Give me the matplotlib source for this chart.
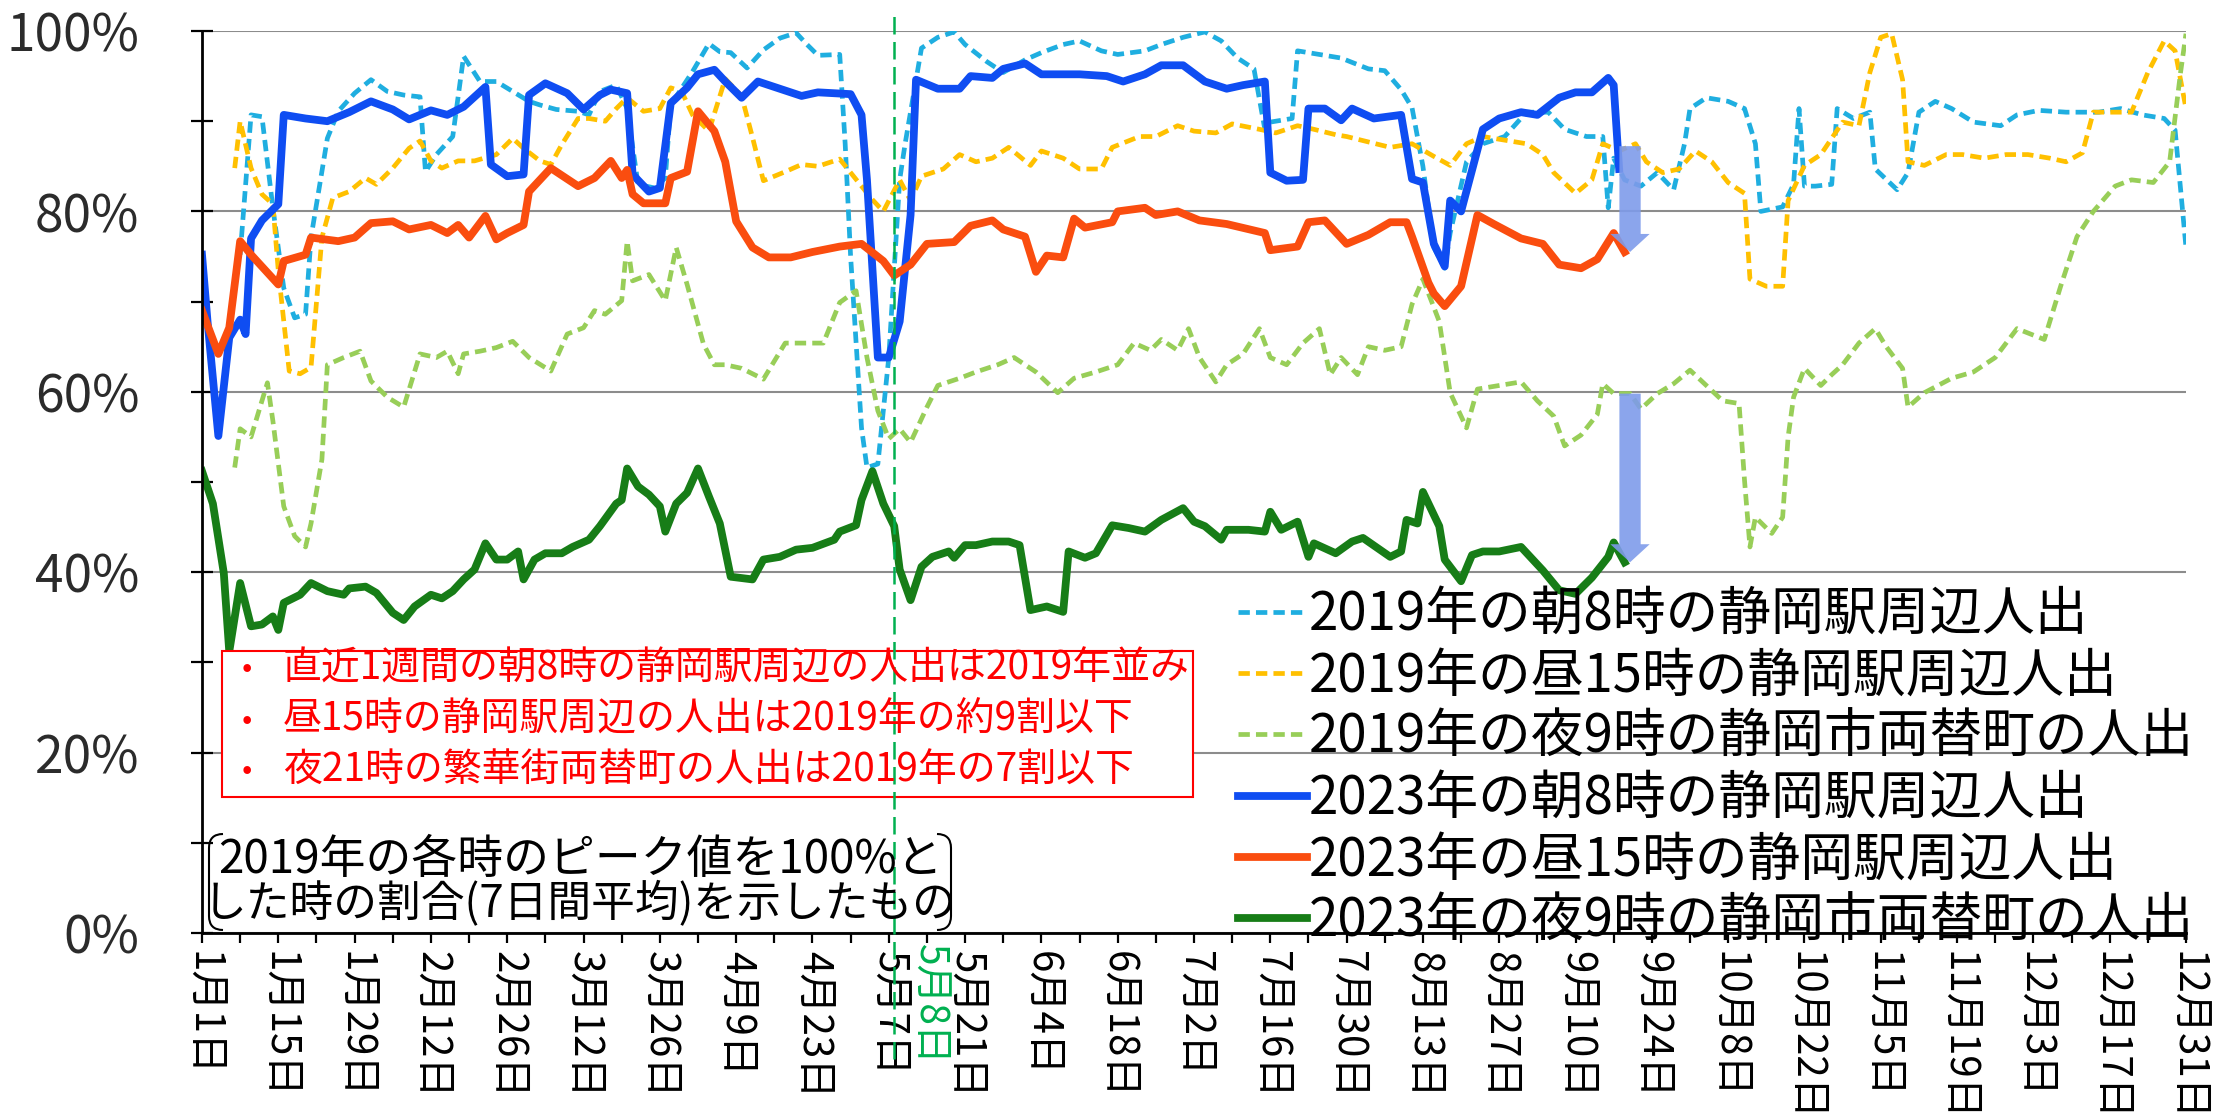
import matplotlib
matplotlib.use("Agg")
import numpy as np
import matplotlib.pyplot as plt
from matplotlib.patches import Rectangle, FancyArrow, PathPatch
from matplotlib.path import Path
from matplotlib.transforms import Affine2D
from matplotlib.ticker import MultipleLocator

plt.rcParams['font.family'] = ['Noto Sans CJK JP', 'DejaVu Sans']

# x = days counted from Jan 1 (day 0), y = % of the 2019 peak (7-day average)
am19_day = [7, 9, 11, 13, 15, 17, 19, 20, 23, 25, 28, 31, 34, 37, 40, 41, 43, 46, 48, 51,
            54, 57, 60, 62, 65, 69, 71, 73, 76, 78, 80, 83, 85, 86, 90, 93, 95, 97, 100, 103,
            106, 109, 111, 113, 117, 118, 119, 121, 122, 124, 126, 128, 129, 132, 135, 138, 140, 144, 147, 151,
            154, 158, 161, 165, 168, 173, 176, 180, 184, 187, 190, 193, 195, 196, 200, 201, 205, 209, 214, 217,
            220, 222, 224, 226, 228, 229, 232, 235, 239, 243, 247, 250, 254, 257, 258, 259, 261, 264, 267, 270,
            272, 273, 276, 280, 283, 285, 286, 290, 292, 293, 294, 296, 299, 300, 303, 306, 307, 311, 313, 315,
            318, 321, 325, 330, 333, 337, 342, 348, 352, 356, 360, 362, 364]
am19_val = [75.2, 90.7, 90.5, 80.4, 71.5, 68.2, 68.6, 77.1, 88.1, 91.1, 93.1, 94.6, 93.3, 92.9, 92.7, 84.4, 86.3, 88.3, 97.2, 94.4,
            94.4, 93.3, 92.2, 91.8, 91.3, 91.1, 90.7, 93.3, 94.0, 91.4, 83.0, 82.6, 83.7, 91.8, 95.5, 98.6, 97.7, 97.6, 95.9, 97.9,
            99.2, 99.8, 98.5, 97.3, 97.4, 87.5, 75.0, 56.0, 51.6, 52.0, 63.8, 83.5, 87.5, 98.1, 99.3, 99.9, 98.5, 96.6, 95.4, 96.8,
            97.6, 98.5, 98.9, 97.8, 97.4, 97.8, 98.5, 99.3, 99.9, 98.9, 97.0, 95.8, 89.1, 89.9, 90.3, 97.8, 97.4, 97.0, 95.8, 95.6,
            93.5, 91.5, 85.0, 76.0, 73.7, 77.6, 85.5, 87.5, 88.3, 91.0, 91.0, 89.1, 88.3, 88.3, 80.4, 85.9, 83.5, 82.8, 84.3, 82.4,
            87.5, 91.4, 92.6, 92.2, 91.4, 87.5, 80.0, 80.5, 83.0, 91.4, 82.8, 82.8, 83.0, 91.4, 90.3, 91.0, 84.7, 82.4, 84.3, 91.0,
            92.2, 91.4, 89.9, 89.5, 90.7, 91.2, 91.0, 91.0, 91.4, 90.7, 90.3, 89.0, 76.0]

pm19_day = [6, 7, 9, 11, 13, 14, 16, 18, 20, 22, 24, 27, 30, 32, 35, 38, 40, 42, 44, 47,
            50, 54, 57, 59, 62, 64, 66, 69, 71, 74, 76, 78, 81, 84, 86, 88, 90, 93, 96, 99,
            101, 103, 107, 110, 113, 117, 119, 123, 125, 128, 130, 132, 136, 139, 142, 145, 148, 152, 154, 158,
            161, 165, 167, 172, 175, 179, 182, 186, 189, 194, 197, 201, 204, 208, 210, 214, 218, 222, 226, 229,
            232, 235, 239, 243, 246, 248, 252, 255, 257, 260, 263, 265, 268, 271, 274, 277, 280, 283, 284, 287,
            290, 291, 294, 297, 301, 304, 306, 308, 310, 312, 313, 316, 320, 323, 327, 331, 335, 339, 342, 345,
            347, 350, 354, 357, 360, 362, 364]
pm19_val = [84.8, 90.0, 84.8, 81.9, 80.8, 73.4, 62.3, 62.0, 62.7, 77.1, 81.5, 82.2, 83.7, 83.0, 84.8, 87.0, 87.8, 85.6, 84.8, 85.6,
            85.6, 86.3, 88.1, 87.0, 85.6, 85.2, 87.4, 90.3, 90.3, 90.0, 91.4, 92.6, 91.1, 91.4, 93.7, 93.3, 90.7, 88.9, 94.7, 92.8,
            88.2, 83.4, 84.4, 85.2, 85.0, 85.8, 84.3, 81.3, 80.0, 83.5, 81.2, 83.9, 84.7, 86.3, 85.5, 85.9, 87.1, 85.1, 86.7, 85.9,
            84.7, 84.7, 87.1, 88.3, 88.3, 89.5, 88.9, 88.7, 89.7, 89.1, 88.7, 89.5, 89.1, 88.5, 88.3, 87.7, 87.1, 87.5, 86.1, 85.1,
            87.5, 88.3, 87.9, 87.5, 86.3, 84.3, 82.0, 83.5, 87.5, 86.7, 87.5, 85.5, 84.3, 84.7, 86.7, 85.5, 83.2, 82.0, 72.5, 71.7,
            71.7, 81.2, 85.1, 86.3, 89.9, 89.5, 95.4, 99.3, 99.7, 94.6, 85.5, 85.1, 86.3, 86.3, 85.9, 86.3, 86.3, 85.9, 85.5, 86.5,
            91.0, 91.0, 91.0, 95.4, 98.9, 97.8, 91.4]

night19_day = [6, 7, 9, 12, 13, 15, 17, 19, 20, 22, 23, 26, 29, 31, 34, 37, 40, 43, 45, 47,
               48, 51, 54, 57, 60, 64, 67, 70, 72, 74, 77, 78, 79, 82, 85, 87, 89, 92, 94, 96,
               99, 103, 107, 111, 114, 117, 120, 122, 124, 126, 128, 130, 133, 135, 139, 142, 146, 149, 153, 157,
               160, 164, 168, 171, 174, 176, 179, 181, 183, 186, 188, 191, 194, 196, 199, 202, 205, 207, 209, 212,
               214, 217, 220, 222, 224, 227, 229, 232, 234, 238, 242, 245, 248, 250, 253, 256, 257, 259, 262, 264,
               267, 270, 273, 276, 279, 282, 283, 284, 285, 288, 290, 291, 292, 294, 297, 299, 301, 304, 307, 309,
               312, 313, 316, 321, 325, 329, 333, 338, 341, 344, 347, 351, 354, 358, 361, 363, 364]
night19_val = [51.6, 55.9, 55.0, 61.0, 56.8, 47.3, 44.0, 42.8, 45.4, 52.5, 63.0, 63.8, 64.5, 61.2, 59.4, 58.3, 64.2, 63.8, 64.5, 62.0,
               64.2, 64.5, 64.9, 65.6, 63.8, 62.3, 66.4, 67.1, 69.0, 68.6, 70.1, 76.7, 72.3, 73.0, 70.1, 76.0, 71.9, 65.3, 63.0, 63.0,
               62.6, 61.4, 65.4, 65.4, 65.4, 69.9, 71.2, 63.8, 57.9, 54.8, 55.9, 54.4, 58.3, 60.7, 61.5, 62.2, 63.0, 63.8, 62.2, 59.9,
               61.5, 62.2, 63.0, 65.4, 64.6, 65.8, 64.6, 67.0, 63.8, 61.1, 63.0, 64.2, 67.0, 63.8, 63.0, 65.4, 67.0, 61.9, 63.8, 61.9,
               65.0, 64.6, 65.0, 69.7, 72.5, 67.8, 59.9, 56.0, 60.3, 60.7, 61.1, 59.0, 57.3, 54.0, 55.2, 57.5, 60.9, 59.8, 59.8, 58.1,
               59.8, 60.9, 62.4, 60.7, 59.0, 58.7, 50.2, 42.8, 46.1, 44.3, 46.1, 55.0, 59.4, 62.6, 60.7, 61.9, 63.0, 65.4, 67.0, 65.0,
               62.6, 58.3, 59.9, 61.5, 62.2, 63.8, 67.0, 65.8, 71.7, 77.2, 80.0, 82.8, 83.5, 83.2, 85.5, 95.4, 99.7]

am23_day = [0, 1, 3, 5, 7, 8, 9, 11, 14, 15, 19, 23, 27, 31, 35, 38, 42, 45, 48, 52,
            53, 56, 59, 60, 63, 67, 70, 73, 75, 78, 79, 82, 84, 86, 89, 91, 94, 96, 99, 102,
            106, 110, 113, 116, 119, 121, 122, 124, 126, 128, 130, 131, 135, 139, 141, 145, 147, 151, 154, 158,
            161, 166, 169, 173, 176, 180, 184, 188, 191, 195, 196, 199, 202, 203, 206, 209, 211, 215, 220, 222,
            224, 226, 228, 229, 231, 235, 238, 242, 245, 249, 252, 255, 258, 259, 260]
am23_val = [75.2, 67.9, 55.1, 66.0, 68.0, 66.4, 77.0, 79.0, 80.8, 90.7, 90.3, 90.0, 91.0, 92.2, 91.3, 90.2, 91.2, 90.7, 91.6, 93.8,
            85.2, 83.9, 84.1, 92.9, 94.2, 93.1, 91.3, 92.9, 93.5, 93.1, 84.1, 82.2, 82.6, 92.0, 93.7, 95.2, 95.7, 94.4, 92.6, 94.4,
            93.6, 92.8, 93.2, 93.1, 93.0, 90.7, 83.5, 63.8, 63.8, 67.8, 79.6, 94.6, 93.6, 93.6, 95.0, 94.8, 95.8, 96.4, 95.2, 95.2,
            95.2, 95.0, 94.4, 95.2, 96.2, 96.2, 94.4, 93.6, 94.0, 94.4, 84.3, 83.4, 83.5, 91.4, 91.4, 90.1, 91.4, 90.3, 90.7, 83.6,
            83.2, 76.4, 73.9, 81.2, 80.0, 89.1, 90.3, 91.0, 90.7, 92.6, 93.2, 93.2, 94.8, 94.0, 84.7]

pm23_day = [0, 3, 5, 7, 9, 14, 15, 19, 20, 25, 28, 31, 35, 38, 42, 45, 47, 49, 52, 54,
            56, 59, 60, 64, 69, 72, 75, 77, 78, 79, 81, 85, 86, 89, 91, 94, 96, 98, 101, 104,
            108, 112, 117, 121, 125, 127, 130, 133, 138, 141, 145, 147, 151, 153, 155, 158, 160, 162, 167, 168,
            173, 175, 179, 183, 188, 195, 196, 201, 203, 206, 210, 214, 218, 221, 222, 225, 226, 228, 231, 234,
            237, 242, 246, 249, 253, 256, 259, 261]
pm23_val = [69.0, 64.2, 67.1, 76.7, 75.2, 71.9, 74.5, 75.2, 77.1, 76.7, 77.1, 78.7, 78.9, 78.0, 78.5, 77.6, 78.5, 77.1, 79.5, 76.9,
            77.6, 78.5, 82.2, 84.8, 82.8, 83.7, 85.6, 83.7, 84.6, 81.9, 80.9, 80.9, 83.7, 84.4, 91.1, 88.9, 85.5, 78.9, 76.0, 74.9,
            74.9, 75.5, 76.1, 76.4, 74.5, 72.9, 74.1, 76.4, 76.6, 78.4, 79.0, 78.0, 77.2, 73.3, 75.1, 74.9, 79.2, 78.2, 78.8, 80.0,
            80.4, 79.6, 80.0, 79.0, 78.6, 77.6, 75.7, 76.1, 78.8, 79.0, 76.4, 77.4, 78.8, 78.8, 77.2, 72.1, 70.9, 69.5, 71.7, 79.6,
            78.6, 77.0, 76.4, 74.1, 73.7, 74.7, 77.6, 75.5]

night23_day = [0, 2, 4, 5, 7, 9, 11, 13, 14, 15, 18, 20, 23, 26, 27, 30, 32, 35, 37, 39,
               42, 44, 46, 48, 50, 52, 54, 56, 58, 59, 61, 63, 66, 68, 71, 73, 76, 77, 78, 80,
               82, 84, 85, 87, 89, 91, 93, 95, 97, 101, 103, 106, 109, 112, 116, 117, 120, 121, 123, 125,
               127, 128, 130, 132, 134, 137, 138, 140, 142, 145, 148, 150, 152, 155, 158, 159, 162, 164, 167, 170,
               173, 176, 180, 182, 184, 187, 188, 192, 195, 196, 198, 201, 203, 204, 208, 211, 213, 218, 220, 221,
               223, 224, 227, 228, 231, 233, 235, 238, 242, 246, 249, 252, 255, 258, 259, 261]
night23_val = [51.2, 47.6, 39.9, 31.2, 38.8, 34.0, 34.2, 35.1, 33.6, 36.6, 37.5, 38.8, 37.9, 37.5, 38.2, 38.4, 37.7, 35.5, 34.7, 36.2,
               37.5, 37.1, 37.9, 39.2, 40.3, 43.2, 41.4, 41.4, 42.3, 39.2, 41.4, 42.1, 42.1, 42.8, 43.6, 45.1, 47.6, 48.0, 51.5, 49.5,
               48.6, 47.3, 44.5, 47.6, 48.8, 51.5, 48.4, 45.4, 39.5, 39.2, 41.4, 41.7, 42.5, 42.7, 43.6, 44.5, 45.2, 48.0, 51.2, 47.6,
               45.1, 40.3, 36.9, 40.6, 41.7, 42.3, 41.6, 43.0, 43.0, 43.4, 43.4, 43.0, 35.8, 36.2, 35.6, 42.3, 41.6, 42.1, 45.2, 44.9,
               44.5, 45.8, 47.1, 45.6, 45.1, 43.6, 44.7, 44.7, 44.5, 46.7, 44.7, 45.6, 41.7, 43.2, 42.1, 43.4, 43.8, 41.7, 42.3, 45.8,
               45.4, 48.9, 45.1, 41.4, 39.0, 41.9, 42.3, 42.3, 42.8, 40.2, 38.0, 37.6, 39.4, 41.7, 43.3, 41.1]

legend_labels = ["2019年の朝8時の静岡駅周辺人出",
                 "2019年の昼15時の静岡駅周辺人出",
                 "2019年の夜9時の静岡市両替町の人出",
                 "2023年の朝8時の静岡駅周辺人出",
                 "2023年の昼15時の静岡駅周辺人出",
                 "2023年の夜9時の静岡市両替町の人出"]

tick_days = list(range(0, 365, 14))
tick_labels = ["1月1日", "1月15日", "1月29日", "2月12日", "2月26日", "3月12日", "3月26日",
               "4月9日", "4月23日", "5月7日", "5月21日", "6月4日", "6月18日", "7月2日",
               "7月16日", "7月30日", "8月13日", "8月27日", "9月10日", "9月24日", "10月8日",
               "10月22日", "11月5日", "11月19日", "12月3日", "12月17日", "12月31日"]

marker_day = 127
marker_label = "5月8日"

notes = ["直近1週間の朝8時の静岡駅周辺の人出は2019年並み",
         "昼15時の静岡駅周辺の人出は2019年の約9割以下",
         "夜21時の繁華街両替町の人出は2019年の7割以下"]
caption = ["2019年の各時のピーク値を100%と", "した時の割合(7日間平均)を示したもの"]

W, H = 2219, 1120
fig = plt.figure(figsize=(W / 100, H / 100), dpi=100)
ax = fig.add_axes([202 / W, (H - 933) / H, 1984 / W, 902 / H])
# figure pixel coordinates, measured from the top-left like the reference
px = Affine2D().scale(1 / W, -1 / H).translate(0, 1) + fig.transFigure

dash = (0, (2.4, 1.3))
ax.plot(am19_day, am19_val, color="#1FAEE0", lw=3.4, ls=dash, label=legend_labels[0], zorder=2)
ax.plot(pm19_day, pm19_val, color="#FFC000", lw=3.4, ls=dash, label=legend_labels[1], zorder=2)
ax.plot(night19_day, night19_val, color="#98CE58", lw=3.4, ls=dash, label=legend_labels[2], zorder=2)
ax.plot(am23_day, am23_val, color="#0F4DF2", lw=5.6, label=legend_labels[3], zorder=3,
        solid_joinstyle="round")
ax.plot(pm23_day, pm23_val, color="#FA4D0F", lw=5.6, label=legend_labels[4], zorder=3,
        solid_joinstyle="round")
ax.plot(night23_day, night23_val, color="#177D17", lw=5.6, label=legend_labels[5], zorder=3,
        solid_joinstyle="round")

# arrows from the 2019 level down to the latest 2023 value
arrow_x = pm23_day[-1] + 1
for y19_day, y19_val, y23_val in [(pm19_day, pm19_val, pm23_val), (night19_day, night19_val, night23_val)]:
    top = np.interp(arrow_x, y19_day, y19_val)
    ax.add_patch(FancyArrow(arrow_x, top, 0, y23_val[-1] - top, width=3.9, head_width=7.2,
                            head_length=2.0, length_includes_head=True, color="#7E9BEA",
                            alpha=0.9, lw=0, zorder=4))

ax.set_xlim(0, 364)
ax.set_ylim(0, 100)
ax.set_xticks(tick_days)
ax.set_xticklabels(tick_labels, rotation=-90, fontsize=29, va="top", ha="center")
ax.xaxis.set_minor_locator(MultipleLocator(7))
ax.set_yticks(range(0, 101, 20))
ax.set_yticklabels([f"{v}%" for v in range(0, 101, 20)], fontsize=37, color="#2b2b2b")
ax.yaxis.set_minor_locator(MultipleLocator(10))
ax.tick_params(axis="x", which="both", direction="out", length=7, width=1.6, pad=6)
ax.tick_params(axis="y", which="both", direction="inout", length=16, width=1.6, pad=37)
ax.grid(axis="y", which="major", color="#8c8c8c", lw=1.5)
ax.set_axisbelow(True)
for side in ["top", "right"]:
    ax.spines[side].set_visible(False)
for side in ["left", "bottom"]:
    ax.spines[side].set_linewidth(2)
    ax.spines[side].set_zorder(5)

# 5/8 marker line and label
ax.plot([marker_day, marker_day], [-0.14, 1.02], transform=ax.get_xaxis_transform(),
        color="#00B050", lw=1.8, ls=(0, (7, 3)), clip_on=False, zorder=8)
fig.text(929, 943, marker_label, transform=px, rotation=-90, fontsize=28, color="#00B050",
         ha="center", va="top")

# red notes box
ax.add_patch(Rectangle((222, 651), 971, 146, transform=px, fill=True, facecolor="white",
                       edgecolor="#FF0000", lw=1.5, zorder=6, clip_on=False))
for i, note in enumerate(notes):
    y = 669 + 51 * i
    fig.text(247, y, "•", transform=px, fontsize=22, color="#FF0000", ha="center", va="center", zorder=7)
    fig.text(283, y, note, transform=px, fontsize=28, color="#FF0000", ha="left", va="center", zorder=7)

# bracket caption
r = 14
xl, xr, yt, yb = 209, 951, 834, 930
for x0, s in [(xl, 1), (xr, -1)]:
    path = Path([(x0 + s * r, yt), (x0, yt), (x0, yt + r), (x0, yb - r), (x0, yb), (x0 + s * r, yb)],
                [Path.MOVETO, Path.CURVE3, Path.CURVE3, Path.LINETO, Path.CURVE3, Path.CURVE3])
    fig.add_artist(PathPatch(path, transform=px, fill=False, edgecolor="black", lw=1.5))
for i, (line, size) in enumerate(zip(caption, [33, 31.5])):
    fig.text(580, 860 + 43 * i, line, transform=px, fontsize=size, color="black", ha="center", va="center")

leg = ax.legend(loc="upper left", bbox_to_anchor=(1238 / W, 1 - 587 / H), bbox_transform=fig.transFigure,
                frameon=False, fontsize=38, handlelength=1.3, handletextpad=0.05, labelspacing=0.12,
                borderpad=0, borderaxespad=0)
leg.set_zorder(9)

fig.savefig("out.png", dpi=100)
